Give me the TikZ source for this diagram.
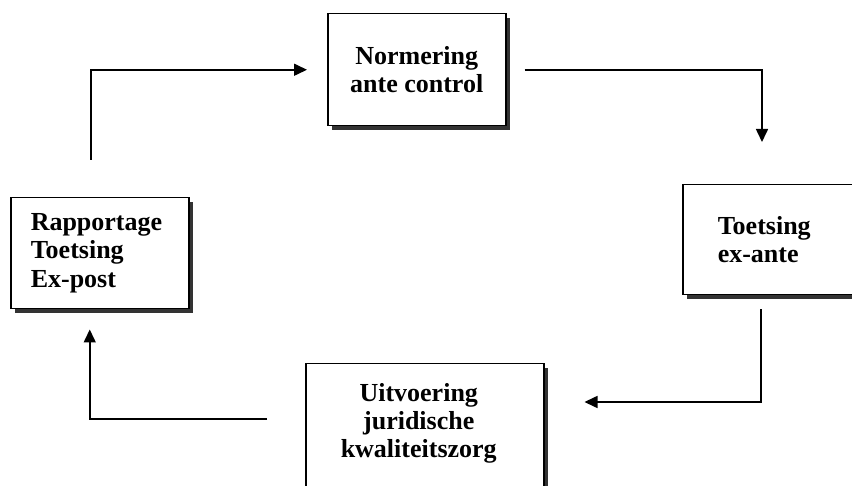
\documentclass[tikz,border=0pt]{standalone}
\usepackage{fontspec}
\setmainfont{Liberation Serif}
\usetikzlibrary{arrows.meta,shadows,calc}

\tikzset{
  stage/.style={draw,line width=1.5pt,fill=white,anchor=north west,inner sep=0pt,
    drop shadow={shadow xshift=4pt,shadow yshift=-4pt,fill=black!80,opacity=1},
    font=\fontsize{26}{28.5}\selectfont\bfseries},
  stagelabel/.style={inner sep=0pt,align=center,font=\fontsize{26}{28}\selectfont\bfseries},
  flow/.style={line width=1.6pt,-{Triangle[length=13pt,width=12pt]}}
}

\begin{document}
\begin{tikzpicture}[x=1pt,y=-1pt]
  \clip (0,0) rectangle (852,486);
  % the four stages
  \node[stage,minimum width=178pt,minimum height=112pt,align=center] (norm) at (327,13) {Normering\\ante control};
  \node[stage,minimum width=190pt,minimum height=110pt,align=left,text width=120pt] (toets) at (682,184) {Toetsing\\ex-ante};
  \node[stage,minimum width=238pt,minimum height=140pt] (uitv) at (305,363) {};
  \node[stagelabel,anchor=north] (uitvlbl) at ([xshift=-6pt,yshift=-20pt]uitv.north) {Uitvoering\\juridische\\kwaliteitszorg};
  \node[stage,minimum width=178pt,minimum height=111pt,align=left,text width=138pt] (rap) at (10,197) {Rapportage\\Toetsing\\Ex-post};
  % cycle
  \draw[flow] ([xshift=-9pt,yshift=37pt]rap.north) |- ([xshift=-20pt]norm.west);
  \draw[flow] ([xshift=18pt]norm.east) -| ([xshift=80pt,yshift=42pt]toets.north west);
  \draw[flow] ([xshift=79pt,yshift=-14pt]toets.south west) |- ([xshift=40pt,yshift=-39pt]uitv.north east);
  \draw[flow] ([xshift=-38pt,yshift=-56pt]uitv.north west) -| ([xshift=-10pt,yshift=-20pt]rap.south);
\end{tikzpicture}
\end{document}
